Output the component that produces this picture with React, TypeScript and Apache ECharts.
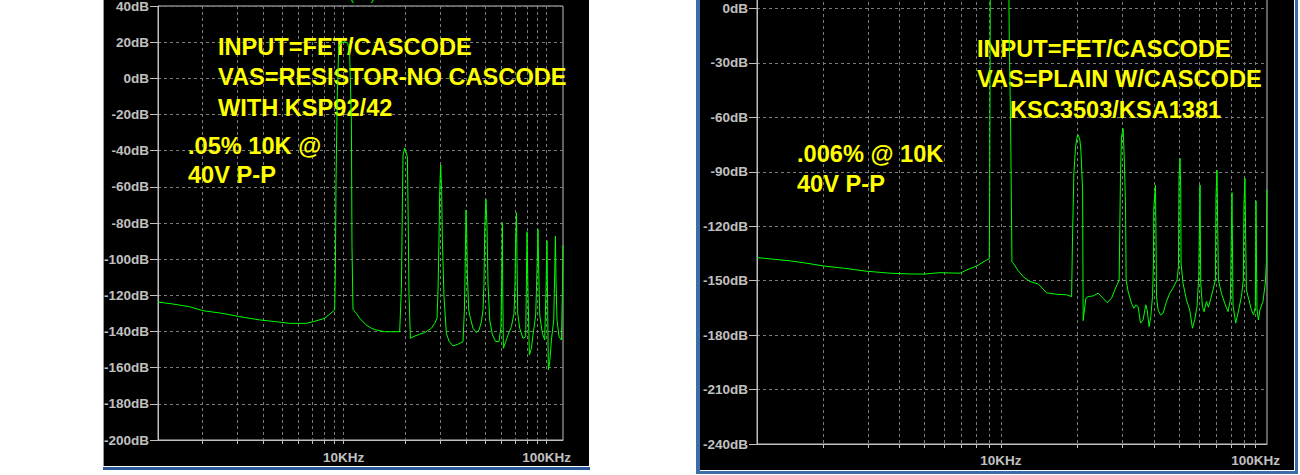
import React, { useEffect, useRef } from "react";
import * as echarts from "echarts";

const FONT = '"Liberation Sans", Arial, sans-serif';

// x-axis grid/tick frequencies (Hz) and labelled frequencies
const xTickFreqs = [2000, 3000, 4000, 5000, 6000, 7000, 8000, 9000, 10000, 20000, 30000, 40000, 50000, 60000, 70000, 80000, 90000, 100000];
const xLabelFreqs = [10000, 100000];

// left plot (FET/cascode input, resistor VAS) : [Hz, dB]
const leftRange = { fMin: 1217, fMax: 120300, dbMin: -200, dbMax: 40, dbStep: 20 };
const leftTrace: [number, number][] = [
  [1217, -123.7], [1442, -124.8], [1743, -126.3], [2027, -128.5], [2543, -130.0], [3074, -131.8],
  [3858, -133.6], [4662, -134.6], [5420, -135.5], [6550, -135.5], [7060, -134.6], [8060, -132.7],
  [9030, -128.1], [9102, -104.4], [9164, -58], [9289, -12], [9449, 17], [9665, 19.5], [10114, 20.3],
  [10464, 19.5], [10704, 13], [10913, -24], [10987, -93], [11111, -127.7], [11550, -130],
  [11990, -132.7], [12450, -134.6], [12930, -136.4], [13690, -138.2], [14490, -139.2], [15920, -140.1],
  [18870, -140.1], [19243, -116.1], [19466, -68.2], [19600, -42.4], [19980, -38.5], [20594, -43.3],
  [20734, -69.1], [20971, -118.9], [21308, -143.8], [21943, -142.9], [23680, -141.5], [25060, -140.6],
  [27040, -138.2], [28080, -135.5], [28820, -132.7], [29140, -118], [29480, -89.4], [29710, -62.7],
  [30050, -47.9], [30390, -62.7], [30630, -89.4], [31190, -120.8], [32050, -141], [33010, -145.3],
  [34550, -148], [36570, -147], [38700, -145.6], [39320, -128.1], [39580, -111.5], [40040, -72.8],
  [40360, -85.7], [40680, -108.8], [41290, -128.1], [42090, -132.7], [43350, -138.2], [45060, -140.6],
  [46400, -139.2], [47680, -134.6], [48560, -128.1], [49110, -113.4], [49510, -83], [50230, -66.9],
  [50810, -83], [51380, -113.4], [52390, -133.6], [54020, -141.9], [56080, -145.6], [58210, -145.6],
  [59550, -137.3], [60020, -111.5], [60500, -79.8], [60710, -115.2], [61190, -149.3], [62810, -145.6],
  [64480, -141.9], [67010, -137.3], [69020, -130], [69810, -113.4], [70370, -87.6], [70930, -74.3],
  [71420, -101.4], [71980, -130], [73620, -138.2], [76430, -143.8], [78810, -142.9], [79430, -113.4],
  [79980, -84.8], [80890, -118.9], [82180, -153], [84060, -149.3], [85600, -141.9], [88270, -130.9],
  [89580, -106], [90600, -83.5], [91340, -106], [92380, -130.9], [95240, -141], [97750, -144.7],
  [99220, -117], [100300, -89.8], [101100, -126.3], [101900, -161.3], [103500, -156.7], [105500, -144.7],
  [108300, -133.6], [109500, -107.8], [110400, -87.2], [111100, -111.5], [112400, -133.6], [115000, -142.9],
  [118200, -144.7], [119500, -118], [120300, -92.2],
];

// right plot (FET/cascode input, plain VAS with cascode) : [Hz, dB]
const rightRange = { fMin: 1102, fMax: 110800, dbMin: -240, dbMax: 30, dbStep: 30 };
const rightTrace: [number, number][] = [
  [1102, -137.3], [1242, -138], [1488, -139.1], [1730, -140.4], [2010, -141.9], [2407, -143.1],
  [2973, -144.8], [3670, -145.9], [4396, -146.3], [4958, -146.4], [5764, -145.6], [6907, -145.9],
  [7334, -144.1], [8029, -141.9], [8788, -138.6], [8998, -138], [9031, -101.5], [9079, 5], [9220, 17],
  [9645, 20], [10182, 20.5], [10557, 18], [10749, 5], [10778, -15.6], [10915, -65.2], [11045, -139.5],
  [11174, -140.4], [11690, -144.5], [12232, -147.8], [12995, -150.5], [14006, -151.8], [15110, -156.7],
  [16538, -157.5], [18099, -157.8], [18939, -158.8], [19110, -123.9], [19336, -90.8], [19632, -76.2],
  [19920, -70.7], [20100, -69.7], [20411, -72.5], [20596, -78], [20916, -100], [21027, -172],
  [21544, -159.7], [22000, -158.8], [23014, -158.4], [24076, -156.9], [25187, -159.7], [26115, -162.1],
  [27172, -159.7], [27997, -155.1], [29105, -149.6], [29475, -91], [29742, -70.7], [30175, -66.2],
  [30448, -79.8], [30836, -108.3], [31006, -149.6], [31568, -156], [32550, -162.4], [33240, -165.2],
  [33843, -163.3], [34553, -164.3], [35309, -173.4], [36148, -171.6], [37040, -163.3], [37478, -166.1],
  [38166, -175.3], [38752, -169.8], [39355, -158.8], [39711, -140.4], [39811, -110.1], [40430, -97.3],
  [40644, -130], [40794, -158.8], [41392, -166.1], [42298, -168.9], [43302, -168], [44650, -161.5],
  [45996, -156.9], [47391, -154.1], [49134, -149.6], [49760, -142.3], [50027, -93.6], [50479, -82.6],
  [50802, -100], [50943, -140.4], [51867, -151.4], [53481, -160.6], [55106, -166.1], [56467, -176.2],
  [57650, -171.6], [58858, -164.3], [59773, -147.8], [60478, -97.3], [60858, -151.4], [61801, -164.3],
  [62703, -167.1], [64075, -161.5], [65238, -164.6], [66437, -160.6], [68000, -155.1], [69502, -149.6],
  [69871, -103.7], [70500, -89], [71398, -149.6], [73365, -156.9], [75577, -162.4], [77875, -167.1],
  [79580, -160.6], [80744, -101.5], [81473, -163.5], [83486, -173.4], [85235, -168], [87886, -158.8],
  [89498, -149.6], [89974, -107.9], [90786, -93.6], [91943, -155.1], [94125, -160.6], [96186, -166.1],
  [98221, -168.9], [99727, -164.3], [100270, -106], [101180, -165.3], [102470, -171.6], [103970, -166.1],
  [106810, -161.5], [109150, -151.4], [110150, -140.4], [110740, -99.7],
];

const leftNotes = ["INPUT=FET/CASCODE", "VAS=RESISTOR-NO CASCODE", "WITH KSP92/42"];
const leftDist = [".05% 10K @", "40V P-P"];
const rightNotes = ["INPUT=FET/CASCODE", "VAS=PLAIN W/CASCODE", "KSC3503/KSA1381"];
const rightDist = [".006% @ 10K", "40V P-P"];

const AXIS = "#c0c0c0";
const GRID = "#7c7c7c";
const TRACE = "#00ff00";
const NOTE = "#ffff00";

// the chart canvas starts OFF px above the page so the right plot's top can be cropped like the original
const OFF = 50;

function xAxisOpt(gridIndex: number, min: number, max: number, margin: number) {
  return {
    type: "log",
    logBase: 10,
    gridIndex,
    min,
    max,
    axisLine: { show: true, onZero: false, lineStyle: { color: AXIS, width: 1 } },
    axisTick: { show: true, customValues: xTickFreqs, length: 4, lineStyle: { color: AXIS } },
    axisLabel: {
      show: true,
      customValues: xLabelFreqs,
      formatter: (v: number) => `${Math.round(v / 1000)}KHz`,
      color: AXIS,
      fontFamily: FONT,
      fontWeight: "bold",
      fontSize: 13.5,
      margin,
    },
    splitLine: { show: true, lineStyle: { color: GRID, width: 1, type: [3, 3] } },
    minorTick: { show: false },
    minorSplitLine: { show: false },
  };
}

function yAxisOpt(gridIndex: number, r: { dbMin: number; dbMax: number; dbStep: number }, showMax: boolean) {
  return {
    type: "value",
    gridIndex,
    min: r.dbMin,
    max: r.dbMax,
    interval: r.dbStep,
    axisLine: { show: true, onZero: false, lineStyle: { color: AXIS, width: 1 } },
    axisTick: { show: true, length: 8, lineStyle: { color: AXIS } },
    axisLabel: {
      formatter: "{value}dB",
      color: AXIS,
      fontFamily: FONT,
      fontWeight: "bold",
      fontSize: 13.5,
      margin: 9,
      showMinLabel: true,
      showMaxLabel: showMax,
    },
    splitLine: { show: true, lineStyle: { color: GRID, width: 1, type: [3, 3] } },
  };
}

function noteText(text: string, x: number, y: number) {
  return {
    type: "text",
    x,
    y: y + OFF,
    z: 1,
    silent: true,
    style: {
      text,
      fill: NOTE,
      font: `bold 23.6px ${FONT}`,
      align: "left",
      verticalAlign: "middle",
      textAlign: "left",
      textVerticalAlign: "middle",
    },
  };
}

function rect(x: number, y: number, w: number, h: number, fill: string, z = -9) {
  return { type: "rect", z, silent: true, shape: { x, y: y + OFF, width: w, height: h }, style: { fill } };
}

export default function App() {
  const ref = useRef<HTMLDivElement>(null);
  useEffect(() => {
    if (!ref.current) return;
    const chart = echarts.init(ref.current, undefined, { renderer: "svg" });
    const option: any = {
      animation: false,
      backgroundColor: "#ffffff",
      grid: [
        { left: 158, top: 6 + OFF, width: 405, height: 434, show: true, borderColor: AXIS, borderWidth: 1, backgroundColor: "transparent", containLabel: false },
        { left: 757, top: -46 + OFF, width: 510, height: 490, show: true, borderColor: AXIS, borderWidth: 1, backgroundColor: "transparent", containLabel: false },
      ],
      xAxis: [
        xAxisOpt(0, leftRange.fMin, leftRange.fMax, 10),
        xAxisOpt(1, rightRange.fMin, rightRange.fMax, 9),
      ],
      yAxis: [yAxisOpt(0, leftRange, true), yAxisOpt(1, rightRange, false)],
      series: [
        {
          type: "line",
          xAxisIndex: 0,
          yAxisIndex: 0,
          data: leftTrace,
          showSymbol: false,
          symbol: "none",
          lineStyle: { color: TRACE, width: 1 },
          z: 3,
        },
        {
          type: "line",
          xAxisIndex: 1,
          yAxisIndex: 1,
          data: rightTrace,
          showSymbol: false,
          symbol: "none",
          lineStyle: { color: TRACE, width: 1 },
          z: 3,
        },
      ],
      graphic: [
        // left window
        rect(103, -OFF, 486, 466 + OFF, "#000000", -10),
        rect(103, -OFF, 1, 466 + OFF, "#9a9a9a"),
        rect(103, 467, 487, 3, "#2b5b9b"),
        // right window
        rect(700, -OFF, 594, 470 + OFF, "#000000", -10),
        rect(696, -OFF, 4, 474 + OFF, "#3b6ea8"),
        rect(1295, -OFF, 3, 474 + OFF, "#3b6ea8"),
        rect(696, 471, 602, 3, "#3b6ea8"),
        // trace name (cut off at top, as in the original)
        {
          type: "text",
          x: 342,
          y: 2 + OFF,
          z: 1,
          silent: true,
          style: { text: "V(out)", fill: TRACE, font: `12px ${FONT}`, align: "left", verticalAlign: "bottom", textAlign: "left", textVerticalAlign: "bottom" },
        },
        noteText(leftNotes[0], 218, 47),
        noteText(leftNotes[1], 218, 77),
        noteText(leftNotes[2], 218, 107.5),
        noteText(leftDist[0], 188, 145.5),
        noteText(leftDist[1], 188, 175),
        noteText(rightNotes[0], 977, 48.5),
        noteText(rightNotes[1], 977, 79),
        noteText(rightNotes[2], 1010, 110),
        noteText(rightDist[0], 797, 154),
        noteText(rightDist[1], 797, 184),
      ],
    };
    chart.setOption(option);
    return () => chart.dispose();
  }, []);
  return <div ref={ref} style={{ position: "absolute", left: 0, top: -OFF, width: 1300, height: 475 + OFF }} />;
}
